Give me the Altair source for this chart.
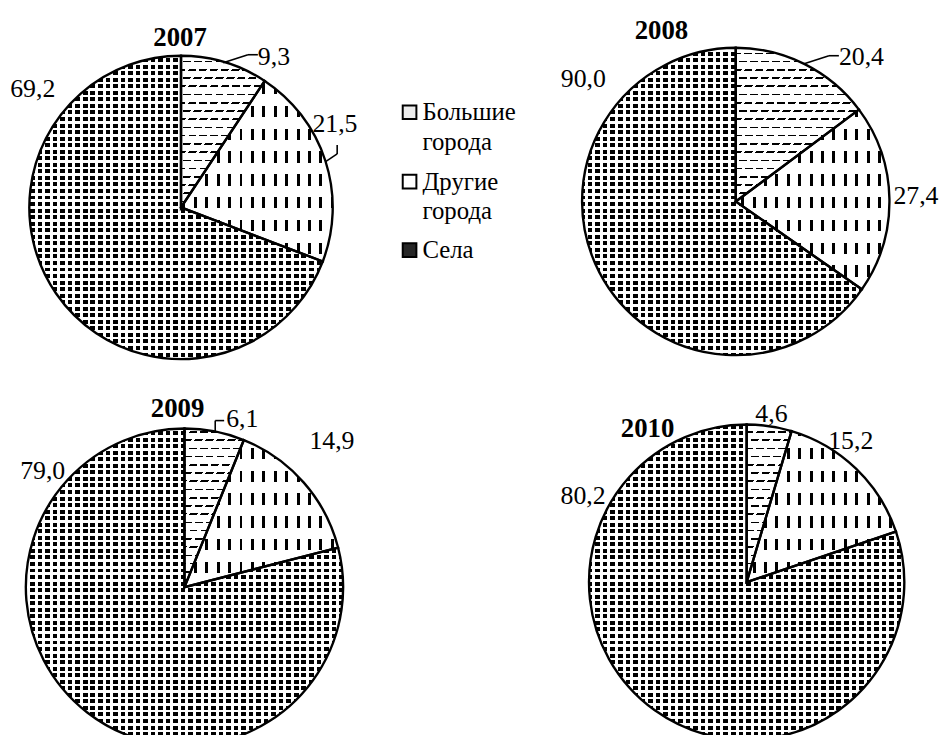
import math
import altair as alt
import pandas as pd

# ---------------- data ----------------
years = ["2007", "2008", "2009", "2010"]
categories = ["Большие города", "Другие города", "Села"]
v2007 = [9.3, 21.5, 69.2]
v2008 = [20.4, 27.4, 90.0]
v2009 = [6.1, 14.9, 79.0]
v2010 = [4.6, 15.2, 80.2]
series = {"2007": v2007, "2008": v2008, "2009": v2009, "2010": v2010}

rows = []
for yr in years:
    vals = series[yr]
    tot = sum(vals)
    acc = 0.0
    for c, v in zip(categories, vals):
        rows.append(dict(year=yr, cat=c, value=v, start=acc / tot, end=(acc + v) / tot))
        acc += v
df = pd.DataFrame(rows)

# ---------------- layout (page pixels) ----------------
OFF = 8
def P(v):
    return v - OFF

SERIF = "Liberation Serif, Times New Roman, serif"
PIES = {  # centre x, centre y, radius
    "2007": (182.5, 206, 153),
    "2008": (742, 200, 155),
    "2009": (186, 589, 160),
    "2010": (753, 584, 159),
}
TITLES = {"2007": (181.5, 43), "2008": (667, 36), "2009": (179, 417), "2010": (653, 438)}
LABELS = {  # (year, cat index): x, baseline, align
    ("2007", 0): (260, 62, "left"),
    ("2007", 1): (315, 130, "left"),
    ("2007", 2): (33, 95, "center"),
    ("2008", 0): (846, 62, "left"),
    ("2008", 1): (901, 203, "left"),
    ("2008", 2): (611, 85, "right"),
    ("2009", 0): (228, 427, "left"),
    ("2009", 1): (312, 450, "left"),
    ("2009", 2): (43, 480, "center"),
    ("2010", 0): (778, 422, "center"),
    ("2010", 1): (858, 450, "center"),
    ("2010", 2): (588, 505, "center"),
}
LEADERS = {  # list of segments
    ("2007", 0): [(225, 60, 250, 52), (250, 52, 260, 52)],
    ("2007", 1): [(328, 160, 340, 152), (340, 152, 340, 143)],
    ("2008", 0): [(811, 61, 836, 53), (836, 53, 846, 53)],
    ("2009", 0): [(217, 432, 217, 421), (217, 421, 226, 421)],
}
LEGEND = {  # icon centre x, icon centre y, text x, text baseline, icon fill
    0: (413, 110, 426, 118, "#ececec"),
    1: (413, 180, 426, 188, "#ffffff"),
    2: (413, 249, 426, 257, "#262626"),
}

BLACK = "#000000"
WHITE = "#ffffff"
CLEAR = "rgba(255,255,255,0)"

# texture definitions: (axis, period, on-width, on-colour, off-colour, skew)
PATTERNS = {
    "Села": [("x", 7.6, 4.6, BLACK, WHITE, 0.0), ("y", 6.6, 2.6, WHITE, CLEAR, 0.0)],
    "Другие города": [("x", 11.5, 3.0, BLACK, WHITE, 0.0), ("y", 23.0, 11.5, WHITE, CLEAR, 0.0)],
    "Большие города": [("y", 8.3, 1.6, BLACK, WHITE, 0.0), ("x", 11.0, 3.2, WHITE, CLEAR, 0.66)],
}


def wedge_bbox(cx, cy, r, f0, f1):
    a0, a1 = f0 * 2 * math.pi, f1 * 2 * math.pi
    pts = [(cx, cy)]
    for t in (a0, a1):
        pts.append((cx + r * math.sin(t), cy - r * math.cos(t)))
    for k in range(5):
        t = k * math.pi / 2
        if a0 <= t <= a1:
            pts.append((cx + r * math.sin(t), cy - r * math.cos(t)))
    xs = [p[0] for p in pts]
    ys = [p[1] for p in pts]
    return min(xs), min(ys), max(xs), max(ys)


def stripe_grad(bbox, axis, period, on, on_c, off_c, m):
    """Stripe texture as an SVG linear gradient in bounding-box units.
    axis 'y': stripes vary with s = y + m*x ; axis 'x': with s = x + m*y."""
    x0, y0, x1, y1 = bbox
    w, h = x1 - x0, y1 - y0
    k = 2.0 if m else 1.0
    if axis == "y":
        a = m * w / h
        length = h * k * (a * a + 1)
        origin = y0 + m * x0
        vec = (k * a, k)
    else:
        b = m * h / w
        length = w * k * (1 + b * b)
        origin = x0 + m * y0
        vec = (k, k * b)
    pos = origin - (origin % period)
    segs = []
    while pos < origin + length:
        segs.append((pos, pos + on, on_c))
        segs.append((pos + on, pos + period, off_c))
        pos += period
    stops = []
    for a0, b0, c in segs:
        a2 = max(a0, origin)
        b2 = min(b0, origin + length)
        if b2 <= a2:
            continue
        stops.append({"offset": round((a2 - origin) / length, 6), "color": c})
        stops.append({"offset": round((b2 - origin) / length, 6), "color": c})
    return {"gradient": "linear", "x1": 0, "y1": 0,
            "x2": round(vec[0], 6), "y2": round(vec[1], 6), "stops": stops}


def filt(yr, c):
    return f"datum.year == '{yr}' && datum.cat == '{c}'"


theta = alt.Theta("start:Q", scale=alt.Scale(domain=[0, 1]))
layers = []

for yr in years:
    cx, cy, r = PIES[yr]
    sub = df[df["year"] == yr]
    for rec in sub.to_dict("records"):
        cat = rec["cat"]
        bbox = wedge_bbox(cx, cy, r, rec["start"], rec["end"])
        for axis, per, on, onc, offc, m in PATTERNS[cat]:
            g = stripe_grad(bbox, axis, per, on, onc, offc, m)
            layers.append(
                alt.Chart()
                .mark_arc(radius=r, fill=g, strokeWidth=0, clip=True)
                .encode(x=alt.value(P(cx)), y=alt.value(P(cy)), theta=theta, theta2="end:Q")
                .transform_filter(filt(yr, cat))
            )
    # outline
    layers.append(
        alt.Chart()
        .mark_arc(radius=r, fill="transparent", stroke=BLACK, strokeWidth=2.4, clip=True)
        .encode(x=alt.value(P(cx)), y=alt.value(P(cy)), theta=theta, theta2="end:Q")
        .transform_filter(f"datum.year == '{yr}'")
    )
    # title
    tx, ty = TITLES[yr]
    layers.append(
        alt.Chart()
        .mark_text(font=SERIF, fontSize=27, fontWeight="bold", align="center",
                   baseline="alphabetic", color=BLACK)
        .encode(x=alt.value(P(tx)), y=alt.value(P(ty)), text="year:N")
        .transform_filter(filt(yr, categories[0]))
    )
    # value labels
    for i, c in enumerate(categories):
        lx, ly, al = LABELS[(yr, i)]
        layers.append(
            alt.Chart()
            .mark_text(font=SERIF, fontSize=26, align=al, baseline="alphabetic", color=BLACK)
            .encode(x=alt.value(P(lx)), y=alt.value(P(ly)), text="lab:N")
            .transform_filter(filt(yr, c))
            .transform_calculate(lab="replace(format(datum.value, '.1f'), '.', ',')")
        )
        for (xa, ya, xb, yb) in LEADERS.get((yr, i), []):
            layers.append(
                alt.Chart()
                .mark_rule(color=BLACK, strokeWidth=1.6)
                .encode(x=alt.value(P(xa)), y=alt.value(P(ya)),
                        x2=alt.value(P(xb)), y2=alt.value(P(yb)))
                .transform_filter(filt(yr, c))
            )

# legend
for i, c in enumerate(categories):
    ix, iy, tx, ty, fillc = LEGEND[i]
    layers.append(
        alt.Chart()
        .mark_square(size=190, fill=fillc, stroke=BLACK, strokeWidth=2, opacity=1)
        .encode(x=alt.value(P(ix)), y=alt.value(P(iy)))
        .transform_filter(filt("2007", c))
    )
    layers.append(
        alt.Chart()
        .mark_text(font=SERIF, fontSize=25, align="left", baseline="alphabetic",
                   lineBreak=" ", lineHeight=30, color=BLACK)
        .encode(x=alt.value(P(tx)), y=alt.value(P(ty)), text="cat:N")
        .transform_filter(filt("2007", c))
    )

chart = (
    alt.layer(*layers, data=df)
    .properties(width=941, height=730, padding=0,
                autosize=alt.AutoSizeParams(type="none"), background="white")
    .configure_view(strokeWidth=0)
)

chart.save("out.html", embed_options={"renderer": "svg", "actions": False})
